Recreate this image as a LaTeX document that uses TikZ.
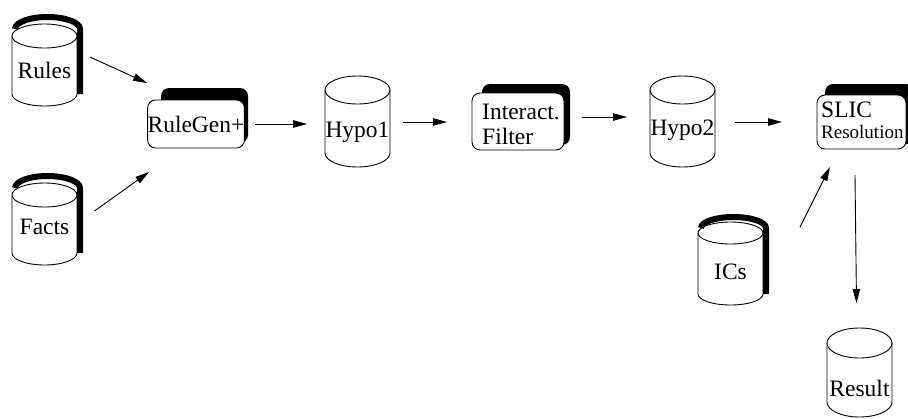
\documentclass[tikz,border=0pt]{standalone}
\usepackage{fontspec}
\setmainfont{Liberation Serif}
\usetikzlibrary{arrows.meta}
\tikzset{
  cylline/.style={line width=0.9pt},
  shadowline/.style={line width=6pt},
  lbl/.style={inner sep=0pt, font=\fontsize{23.5}{25}\selectfont},
  pbox/.style={draw, line width=0.9pt, rounded corners=8, fill=white, inner sep=0pt, font=\fontsize{23.5}{25}\selectfont},
  arr/.style={line width=0.9pt, -{Triangle[length=14pt,width=7.5pt]}}
}
% name, cx, textY, topCy, botCy, ry, label
\newcommand\dbcyl[7]{%
  \draw[cylline] (#2-32.5,#4) -- (#2-32.5,#5) arc[start angle=180,end angle=0,x radius=32.5,y radius=#6] -- (#2+32.5,#4);
  \draw[cylline] (#2,#4) ellipse[x radius=32.5,y radius=#6];
  \node[lbl] (#1) at (#2,#3) {#7};
}
% cx, topCy, botCy, ry, dx, dy
\newcommand\cylshadow[6]{%
  \draw[shadowline] (#1-32.5+#5,#2+#6) arc[start angle=180,end angle=360,x radius=32.5,y radius=#4] -- (#1+32.5+#5,#3);
}
\begin{document}
\begin{tikzpicture}[x=1pt,y=1pt,yscale=-1]
\useasboundingbox (0,0) rectangle (908,418);

% cylinders
\cylshadow{44.5}{36}{94}{12}{3}{-7}
\dbcyl{rules}{44.5}{70}{36}{94}{12}{Rules}
\cylshadow{44.5}{195}{253}{12}{3}{-7}
\dbcyl{facts}{44.5}{227}{195}{253}{12}{Facts}
\dbcyl{hypo1}{357.5}{132}{90}{153}{14}{Hypo1}
\dbcyl{hypo2}{682.5}{130}{90}{153}{14}{Hypo2}
\cylshadow{730.5}{233}{294}{11}{3}{-5}
\dbcyl{ics}{730.5}{272}{233}{294}{11}{ICs}
\dbcyl{result}{859.5}{388}{343}{402}{15}{Result}

% process boxes
\fill[rounded corners=8] (161,88) rectangle (248,143);
\node[pbox, minimum width=88, minimum height=48] (rulegen) at (196,124) {RuleGen+};

\fill[rounded corners=8] (482,84) rectangle (570,145);
\node[pbox, minimum width=92, minimum height=57] (filter) at (518,121.5) {};
\node[lbl, anchor=west, align=left] (filtertxt) at (482,124.5) {Interact.\\Filter};

\fill[rounded corners=8] (825,84) rectangle (914,144);
\node[pbox, minimum width=89, minimum height=54] (slic) at (861.5,122) {};
\node[lbl, anchor=west] (slict1) at (821,110) {SLIC};
\node[lbl, anchor=west, font=\fontsize{19}{21}\selectfont] (slict2) at (821,132) {Resolution};

% connectors
\draw[arr] ([shift={(45.5,-13)}]rules.center) -- ([shift={(-49,-41)}]rulegen.center);
\draw[arr] ([shift={(50,-16)}]facts.center) -- ([shift={(-47,48)}]rulegen.center);
\draw[arr] ([shift={(59,0)}]rulegen.center) -- ([shift={(-50.5,-8)}]hypo1.center);
\draw[arr] ([shift={(45.5,-10)}]hypo1.center) -- ([shift={(-71,0.5)}]filter.center);
\draw[arr] ([shift={(64,-4.5)}]filter.center) -- ([shift={(-55.5,-13)}]hypo2.center);
\draw[arr] ([shift={(52.5,-8)}]hypo2.center) -- ([shift={(-79.5,0)}]slic.center);
\draw[arr] ([shift={(69.5,-45)}]ics.center) -- ([shift={(-31.5,45)}]slic.center);
\draw[arr] ([shift={(-6.5,53)}]slic.center) -- ([shift={(-3,-85)}]result.center);
\end{tikzpicture}
\end{document}
